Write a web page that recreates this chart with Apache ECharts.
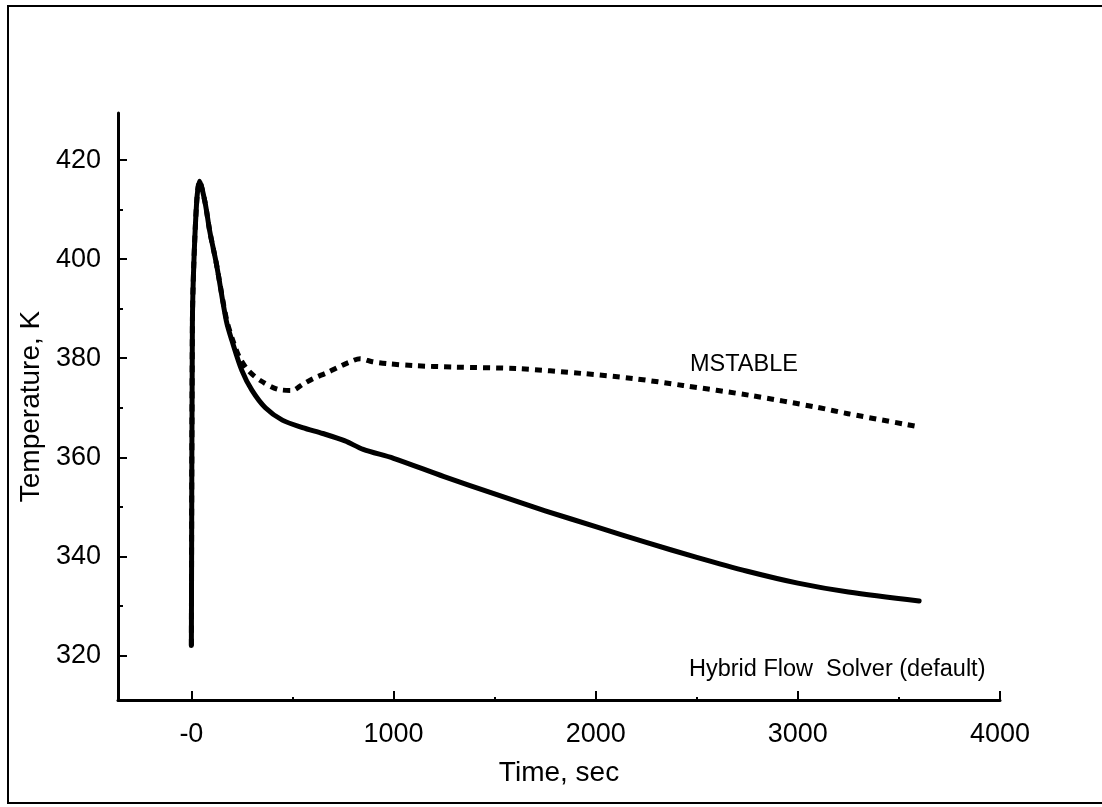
<!DOCTYPE html>
<html>
<head>
<meta charset="utf-8">
<script src="https://cdn.jsdelivr.net/npm/echarts@6/dist/echarts.min.js"></script>
<style>
  html, body { margin: 0; padding: 0; background: #fff; }
  #chart { width: 1102px; height: 807px; }
</style>
</head>
<body>
<div id="chart"></div>
<script>
// Time (s) and temperature (K) for the hybrid flow solver run
const hybridTime = [0, 5, 12, 27, 40, 67, 91, 124, 173, 201, 250, 300, 366, 450, 550, 650, 760, 850, 1000, 1250, 1500, 1750, 2000, 2250, 2500, 2750, 3000, 3250, 3600];
const hybridTemp = [322, 387, 399, 412, 415.7, 411.6, 405.6, 399, 387.5, 383.5, 377.5, 373.5, 370, 367.5, 366, 364.8, 363.3, 361.6, 359.8, 356.1, 352.6, 349.2, 346.0, 342.8, 339.8, 337.0, 334.6, 332.8, 331];

// Time (s) and temperature (K) for the MSTABLE run
const mstableTime = [0, 5, 12, 27, 40, 67, 91, 124, 173, 210, 240, 282, 341, 430, 499, 549, 603, 672, 722, 776, 835, 895, 969, 1100, 1300, 1611, 1938, 2185, 2432, 2763, 3094, 3248, 3580];
const mstableTemp = [322, 387, 399, 412, 415.7, 411.6, 405.6, 399, 388, 383, 380, 377.5, 375.5, 373.7, 373.5, 374.7, 375.9, 377.1, 378.1, 379.1, 379.9, 379.3, 378.9, 378.5, 378.2, 377.9, 376.9, 375.9, 374.5, 372.5, 370.1, 368.8, 366.3];

// Axis tick values and their printed labels
const xTickValues = [0, 1000, 2000, 3000, 4000];
const xTickLabels = ['-0', '1000', '2000', '3000', '4000'];
const xMinorTicks = [500, 1500, 2500, 3500];
const yTickValues = [320, 340, 360, 380, 400, 420];
const yTickLabels = ['320', '340', '360', '380', '400', '420'];
const yMinorTicks = [330, 350, 370, 390, 410];

const FONT = '"Liberation Sans", Arial, Helvetica, sans-serif';
const toPairs = (xs, ys) => xs.map((x, i) => [x, ys[i]]);

const chart = echarts.init(document.getElementById('chart'), null, { renderer: 'canvas' });

const xRange = { min: -363, max: 4000 };
const yRange = { min: 311, max: 429.5 };

chart.setOption({
  backgroundColor: '#ffffff',
  animation: false,
  grid: { left: 118, right: 102, top: 113, bottom: 107 },
  xAxis: [
    {
      type: 'value', ...xRange,
      name: 'Time, sec', nameLocation: 'middle', nameGap: 59,
      nameTextStyle: { fontFamily: FONT, fontSize: 28, color: '#000' },
      axisLine: { show: true, onZero: false, lineStyle: { color: '#000', width: 3 } },
      axisTick: { show: true, inside: true, length: 9, lineStyle: { color: '#000', width: 2 }, customValues: xTickValues },
      axisLabel: {
        show: true, margin: 21, fontFamily: FONT, fontSize: 27, color: '#000',
        customValues: xTickValues,
        formatter: v => xTickLabels[xTickValues.indexOf(v)]
      },
      splitLine: { show: false }
    },
    {
      type: 'value', ...xRange, position: 'bottom',
      axisLine: { show: false, onZero: false },
      axisTick: { show: true, inside: true, length: 3, lineStyle: { color: '#000', width: 2 }, customValues: xMinorTicks },
      axisLabel: { show: false },
      splitLine: { show: false }
    }
  ],
  yAxis: [
    {
      type: 'value', ...yRange,
      name: 'Temperature, K', nameLocation: 'middle', nameGap: 73, nameRotate: 90,
      nameTextStyle: { fontFamily: FONT, fontSize: 28, color: '#000' },
      axisLine: { show: true, onZero: false, lineStyle: { color: '#000', width: 3 } },
      axisTick: { show: true, inside: true, length: 9, lineStyle: { color: '#000', width: 2 }, customValues: yTickValues },
      axisLabel: {
        show: true, margin: 17, fontFamily: FONT, fontSize: 27, color: '#000',
        customValues: yTickValues,
        formatter: v => yTickLabels[yTickValues.indexOf(v)]
      },
      splitLine: { show: false }
    },
    {
      type: 'value', ...yRange, position: 'left',
      axisLine: { show: false, onZero: false },
      axisTick: { show: true, inside: true, length: 5, lineStyle: { color: '#000', width: 2 }, customValues: yMinorTicks },
      axisLabel: { show: false },
      splitLine: { show: false }
    }
  ],
  series: [
    {
      name: 'MSTABLE', type: 'line', xAxisIndex: 0, yAxisIndex: 0,
      data: toPairs(mstableTime, mstableTemp),
      showSymbol: false, smooth: 0.3,
      lineStyle: { color: '#000', width: 5, type: [7, 6], cap: 'butt', join: 'round' },
      z: 2
    },
    {
      name: 'Hybrid Flow Solver (default)', type: 'line', xAxisIndex: 0, yAxisIndex: 0,
      data: toPairs(hybridTime, hybridTemp),
      showSymbol: false, smooth: 0.3,
      lineStyle: { color: '#000', width: 5, cap: 'round', join: 'round' },
      z: 3
    }
  ],
  graphic: [
    {
      type: 'polyline', silent: true,
      shape: { points: [[1102, 6], [8, 6], [8, 803], [1102, 803]] },
      style: { stroke: '#000', lineWidth: 2, fill: null }
    },
    {
      type: 'text', silent: true, x: 690, y: 365,
      style: { text: 'MSTABLE', font: '23.5px ' + FONT, fill: '#000', textVerticalAlign: 'middle' }
    },
    {
      type: 'text', silent: true, x: 689, y: 670,
      style: { text: 'Hybrid Flow  Solver (default)', font: '23.5px ' + FONT, fill: '#000', textVerticalAlign: 'middle' }
    }
  ]
});
</script>
</body>
</html>
